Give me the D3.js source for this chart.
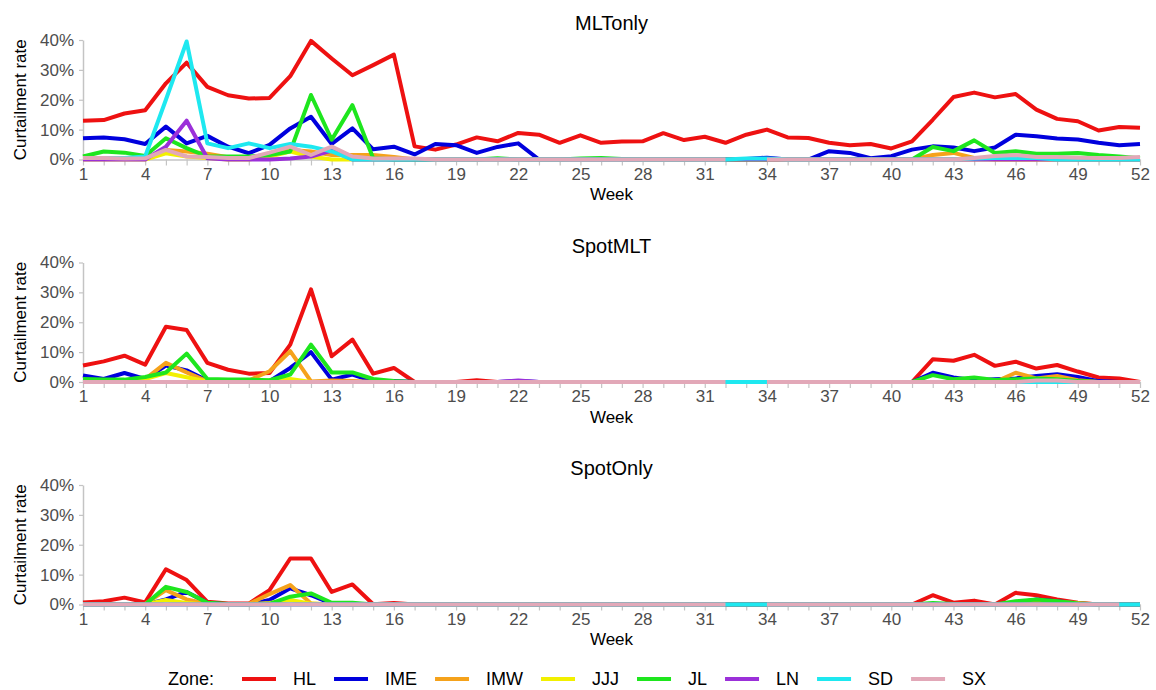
<!DOCTYPE html>
<html>
<head>
<meta charset="utf-8">
<script src="https://cdn.jsdelivr.net/npm/d3@7"></script>
<style>
  body { margin: 0; background: #fff; }
  svg { font-family: "Liberation Sans", Arial, Helvetica, sans-serif; }
</style>
</head>
<body>
<div id="chart"></div>
<script>
// Zones, colours and tick labels
const zones = ["HL", "IME", "IMW", "JJJ", "JL", "LN", "SD", "SX"];
const zoneColors = ["#ee1111", "#0000dd", "#f5a21b", "#f2f000", "#1ee61e", "#9b30d9", "#1ee8f0", "#e2a8b8"];
const weeks = d3.range(1, 53);
const weekTicks = [1, 4, 7, 10, 13, 16, 19, 22, 25, 28, 31, 34, 37, 40, 43, 46, 49, 52];
const rateTicks = [0, 10, 20, 30, 40];
const panelTitles = ["MLTonly", "SpotMLT", "SpotOnly"];

// MLTonly (curtailment rate, %)
const mlt_HL = [13.0, 13.2, 15.4, 16.5, 25.5, 32.4, 24.3, 21.5, 20.4, 20.6, 27.9, 39.7, 33.8,
  28.2, 31.6, 35.1, 4.4, 3.3, 5.0, 7.4, 6.1, 8.9, 8.3, 5.6, 8.1, 5.6,
  6.0, 6.1, 8.8, 6.5, 7.6, 5.6, 8.3, 10.0, 7.4, 7.2, 5.6, 4.8, 5.2,
  3.7, 6.1, 13.3, 20.9, 22.4, 20.8, 21.9, 16.7, 13.6, 12.8, 9.7, 10.9, 10.6];
const mlt_IME = [7.1, 7.4, 6.8, 5.2, 11.0, 5.4, 7.9, 4.3, 2.1, 4.9, 10.4, 14.3, 5.2,
  10.4, 3.4, 4.3, 1.7, 5.2, 4.8, 2.2, 4.2, 5.4, 0, 0, 0, 0,
  0, 0, 0, 0, 0, 0, 0.2, 0.6, 0, 0, 2.8, 2.2, 0.4,
  1.1, 3.3, 4.4, 4.0, 2.8, 4.0, 8.3, 7.8, 7.0, 6.7, 5.6, 4.8, 5.2];
const mlt_IMW = [0.3, 0.3, 0.3, 0.3, 3.2, 2.7, 1.9, 0.8, 0.5, 1.5, 3.2, 2.7, 1.5,
  1.5, 1.5, 0.8, 0, 0, 0, 0, 0, 0, 0, 0, 0, 0,
  0, 0, 0, 0, 0, 0, 0, 0, 0, 0, 0, 0, 0,
  0, 0, 1.5, 2.2, 0.5, 0, 0, 0, 0, 0, 0, 0, 0];
const mlt_JJJ = [0, 0, 0, 0, 2.1, 1.0, 0.5, 0, 0, 1.0, 2.7, 1.0, 0,
  0, 0, 0, 0, 0, 0, 0, 0, 0, 0, 0, 0, 0,
  0, 0, 0, 0, 0, 0, 0, 0, 0, 0, 0, 0, 0,
  0, 0, 0, 0, 0, 0, 0, 0, 0, 0, 0, 0, 0];
const mlt_JL = [1.0, 2.7, 2.3, 1.2, 7.1, 3.8, 1.0, 1.0, 1.0, 1.5, 2.7, 21.6, 6.6,
  18.2, 0.4, 0, 0, 0, 0, 0, 0.4, 0, 0, 0, 0.3, 0.5,
  0.2, 0, 0, 0, 0, 0, 0, 0, 0, 0, 0, 0, 0,
  0, 0, 4.2, 2.8, 6.4, 2.2, 2.8, 1.9, 1.9, 2.2, 1.5, 1.0, 0.4];
const mlt_LN = [0, 0, 0, 0, 4.3, 13.0, 0.4, 0, 0, 0, 0.3, 1.0, 3.0,
  0, 0, 0, 0, 0, 0, 0, 0, 0, 0, 0, 0, 0,
  0, 0, 0, 0, 0, 0, 0, 0, 0, 0, 0, 0, 0,
  0, 0, 0, 0, 0, 0, 0, 0, 0, 0, 0, 0, 0];
const mlt_SD = [0.5, 0.5, 0.5, 1.0, 20.0, 39.5, 5.4, 3.8, 5.4, 3.8, 5.2, 4.3, 2.7,
  0, 0, 0, 0, 0, 0, 0, 0, 0, 0, 0, 0, 0,
  0, 0, 0, 0, 0, 0, 0.3, 0.3, 0, 0, 0, 0, 0,
  0, 0, 0, 0, 0.3, 0.5, 0.5, 0.5, 0, 0, 0, 0, 0];
const mlt_SX = [0.5, 0.5, 0.3, 0.4, 3.2, 1.0, 0.8, 0.5, 0.5, 2.3, 4.3, 1.5, 4.3,
  1.0, 0.3, 0.3, 0.3, 0, 0, 0, 0, 0, 0, 0, 0, 0,
  0, 0, 0, 0, 0, 0, null, 0, 0, 0, 0, 0, 0,
  0, 0, 0, 0, 0.5, 1.2, 1.5, 0.8, 0.8, 0.6, 0.5, 0.5, 0.8];

// SpotMLT
const smlt_HL = [5.5, 6.9, 8.8, 5.8, 18.5, 17.4, 6.4, 4.1, 2.8, 3.0, 12.5, 31.0, 8.6,
  14.2, 2.8, 4.7, 0, 0, 0, 0.6, 0, 0, 0, 0, 0, 0,
  0, 0, 0, 0, 0, 0, 0, 0, 0, 0, 0, 0, 0,
  0, 0, 7.6, 7.1, 9.1, 5.4, 6.8, 4.5, 5.7, 3.5, 1.5, 1.2, 0];
const smlt_IME = [2.2, 1.0, 3.0, 1.0, 5.5, 3.9, 0.5, 0.3, 0.3, 0.3, 4.7, 10.0, 0.8,
  2.5, 0.2, 0.3, 0, 0, 0, 0, 0, 0.3, 0, 0, 0, 0,
  0, 0, 0, 0, 0, 0, 0, 0, 0, 0, 0, 0, 0,
  0, 0, 3.1, 1.5, 0.6, 0.9, 1.2, 2.0, 2.6, 1.7, 0.3, 0, 0];
const smlt_IMW = [0, 0, 0, 1.0, 6.4, 3.2, 0.2, 0, 0.5, 3.6, 10.3, 0.2, 0.5,
  0.3, 0, 0, 0, 0, 0, 0, 0, 0, 0, 0, 0, 0,
  0, 0, 0, 0, 0, 0, 0, 0, 0, 0, 0, 0, 0,
  0, 0, 0, 0, 0, 0, 3.1, 1.2, 2.0, 0.6, 0, 0, 0];
const smlt_JJJ = [0, 0, 0, 1.0, 3.0, 1.6, 0.2, 0, 0, 0.5, 1.0, 0, 0,
  0, 0, 0, 0, 0, 0, 0, 0, 0, 0, 0, 0, 0,
  0, 0, 0, 0, 0, 0, 0, 0, 0, 0, 0, 0, 0,
  0, 0, 0, 0, 0, 0, 0, 1.0, 1.0, 0, 0, 0, 0];
const smlt_JL = [1.0, 0.8, 0.8, 1.7, 3.2, 9.5, 1.0, 0.8, 0.8, 0.6, 2.5, 12.5, 3.2,
  3.2, 1.0, 0.3, 0, 0, 0, 0, 0, 0, 0, 0, 0, 0,
  0, 0, 0, 0, 0, 0, 0, 0, 0, 0, 0, 0, 0,
  0, 0, 2.3, 0.9, 1.5, 0.7, 0.9, 1.2, 0.9, 0.3, 0, 0, 0];
const smlt_LN = [0, 0, 0, 0, 0, 0, 0, 0, 0, 0, 0, 0, 0,
  0, 0, 0, 0, 0, 0, 0, 0, 0.5, 0, 0, 0, 0,
  0, 0, 0, 0, 0, 0, 0, 0, 0, 0, 0, 0, 0,
  0, 0, 0, 0, 0, 0, 0, 0, 0, 0, 0, 0, 0];
const smlt_SD = [0, 0, 0, 0, 0, 0, 0, 0, 0, 0, 0, 0, 0,
  0, 0, 0, 0, 0, 0, 0, 0, 0, 0, 0, 0, 0,
  0, 0, 0, 0, 0, 0, 0, 0, 0, 0, 0, 0, 0,
  0, 0, 0, 0, 0, 0, 0, 0, 0, 0, 0, 0, 0];
const smlt_SX = [0, 0, 0, 0, 0, 0, 0, 0, 0, 0, 0, 0, 0,
  0, 0, 0, 0, 0, 0, 0, 0, 0, 0, 0, 0, 0,
  0, 0, 0, 0, 0, 0, null, 0, 0, 0, 0, 0, 0,
  0, 0, 0, 0, 0, 0, 0, 0.5, 0.5, 0, 0, 0, 0];

// SpotOnly
const so_HL = [0.7, 1.1, 2.3, 0.7, 11.8, 8.2, 0.9, 0.3, 0.3, 4.8, 15.4, 15.4, 4.2,
  6.7, 0.1, 0.5, 0, 0, 0, 0, 0, 0, 0, 0, 0, 0,
  0, 0, 0, 0, 0, 0, 0, 0, 0, 0, 0, 0, 0,
  0, 0, 3.1, 0.6, 1.3, 0, 3.9, 3.1, 1.7, 0.6, 0, 0, 0];
const so_IME = [0, 0, 0, 0, 1.7, 4.2, 0.6, 0, 0, 1.5, 5.4, 3.1, 0.3,
  0, 0, 0, 0, 0, 0, 0, 0, 0, 0, 0, 0, 0,
  0, 0, 0, 0, 0, 0, 0, 0, 0, 0, 0, 0, 0,
  0, 0, 0, 0, 0, 0, 0.5, 1.7, 1.1, 0.3, 0, 0, 0];
const so_IMW = [0, 0, 0, 0.2, 4.8, 1.7, 0.3, 0, 0.2, 3.5, 6.5, 0.3, 0,
  0, 0, 0, 0, 0, 0, 0, 0, 0, 0, 0, 0, 0,
  0, 0, 0, 0, 0, 0, 0, 0, 0, 0, 0, 0, 0,
  0, 0, 0, 0, 0, 0, 0, 1.1, 0.9, 0.5, 0, 0, 0];
const so_JJJ = [0, 0, 0, 0, 1.5, 0.5, 0, 0, 0, 0.5, 1.5, 0.3, 0,
  0, 0, 0, 0, 0, 0, 0, 0, 0, 0, 0, 0, 0,
  0, 0, 0, 0, 0, 0, 0, 0, 0, 0, 0, 0, 0,
  0, 0, 0, 0, 0, 0, 0, 0, 0, 0, 0, 0, 0];
const so_JL = [0, 0, 0, 0, 5.9, 4.2, 0.6, 0.2, 0, 0.2, 2.6, 3.7, 0.6,
  0.6, 0, 0, 0, 0, 0, 0, 0, 0, 0, 0, 0, 0,
  0, 0, 0, 0, 0, 0, 0, 0, 0, 0, 0, 0, 0,
  0, 0, 0.5, 0.2, 0, 0, 1.1, 1.7, 1.1, 0.3, 0, 0, 0];
const so_LN = [0, 0, 0, 0, 0, 0, 0, 0, 0, 0, 0, 0, 0,
  0, 0, 0, 0, 0, 0, 0, 0, 0, 0, 0, 0, 0,
  0, 0, 0, 0, 0, 0, 0, 0, 0, 0, 0, 0, 0,
  0, 0, 0, 0, 0, 0, 0, 0, 0, 0, 0, 0, 0];
const so_SD = [0, 0, 0, 0, 0, 0, 0, 0, 0, 0, 0, 0, 0,
  0, 0, 0, 0, 0, 0, 0, 0, 0, 0, 0, 0, 0,
  0, 0, 0, 0, 0, 0, 0, 0, 0, 0, 0, 0, 0,
  0, 0, 0, 0, 0, 0, 0, 0, 0, 0, 0, 0, 0];
const so_SX = [0, 0, 0, 0, 0, 0, 0, 0, 0, 0, 0, 0, 0,
  0, 0, 0, 0, 0, 0, 0, 0, 0, 0, 0, 0, 0,
  0, 0, 0, 0, 0, 0, null, 0, 0, 0, 0, 0, 0,
  0, 0, 0, 0, 0, 0, 0, 0, 0, 0, 0, 0, null];

const panelSeries = [
  [mlt_HL, mlt_IME, mlt_IMW, mlt_JJJ, mlt_JL, mlt_LN, mlt_SD, mlt_SX],
  [smlt_HL, smlt_IME, smlt_IMW, smlt_JJJ, smlt_JL, smlt_LN, smlt_SD, smlt_SX],
  [so_HL, so_IME, so_IMW, so_JJJ, so_JL, so_LN, so_SD, so_SX]
];

// Chart dimensions
const width = 1156;
const height = 690;
const marginLeft = 83;
const marginRight = 16;
const panelTops = [40, 262.5, 485];
const panelHeight = 119.5;

const svg = d3.create("svg")
  .attr("width", width)
  .attr("height", height);
document.getElementById("chart").append(svg.node());

const x = d3.scaleLinear()
  .domain([1, 52])
  .range([marginLeft, width - marginRight]);

const line = d3.line()
  .defined(d => d.v != null)
  .x(d => x(d.w))
  .y(d => d.yScale(d.v));

panelTitles.forEach((title, p) => {
  const top = panelTops[p];
  const bottom = top + panelHeight;

  const y = d3.scaleLinear()
    .domain([0, 40])
    .range([bottom, top]);

  // Title
  svg.append("text")
    .attr("x", (x(1) + x(52)) / 2)
    .attr("y", top - 17)
    .attr("dy", "0.35em")
    .attr("text-anchor", "middle")
    .style("font-size", "20px")
    .attr("fill", "#000")
    .text(title);

  // Y axis
  const gy = svg.append("g")
    .attr("transform", `translate(${marginLeft},0)`)
    .call(d3.axisLeft(y).tickValues(rateTicks).tickFormat(d => d + "%")
      .tickSize(4).tickPadding(5).tickSizeOuter(0));

  // X axis
  const gx = svg.append("g")
    .attr("transform", `translate(0,${bottom})`)
    .call(d3.axisBottom(x).tickValues(weeks)
      .tickFormat(d => weekTicks.includes(d) ? d : "")
      .tickSize(6).tickPadding(2).tickSizeOuter(0));

  [gx, gy].forEach(g => {
    g.select(".domain").attr("stroke", "#c4c4c4").attr("stroke-width", 1.5);
    g.selectAll(".tick line").attr("stroke", "#c4c4c4").attr("stroke-width", 1.2);
    g.selectAll(".tick text")
      .attr("fill", "#4d4d4d")
      .style("font-size", "17px")
      .style("font-family", "'Liberation Sans', Arial, Helvetica, sans-serif");
  });

  // Axis titles
  svg.append("text")
    .attr("x", (x(1) + x(52)) / 2)
    .attr("y", bottom + 35)
    .attr("dy", "0.35em")
    .attr("text-anchor", "middle")
    .style("font-size", "17px")
    .text("Week");

  svg.append("text")
    .attr("transform", `translate(20,${(top + bottom) / 2}) rotate(-90)`)
    .attr("dy", "0.35em")
    .attr("text-anchor", "middle")
    .style("font-size", "17px")
    .text("Curtailment rate");

  // Lines, one per zone
  panelSeries[p].forEach((vals, i) => {
    const pts = vals.map((v, k) => ({ w: weeks[k], v: v, yScale: y }));
    svg.append("path")
      .attr("d", line(pts))
      .attr("fill", "none")
      .attr("stroke", zoneColors[i])
      .attr("stroke-width", 4)
      .attr("stroke-linejoin", "round");
  });
});

// Legend
const legendY = 679;
const legend = svg.append("g").attr("transform", `translate(0,${legendY})`);
legend.append("text")
  .attr("x", 168)
  .attr("dy", "0.35em")
  .style("font-size", "18px")
  .text("Zone:");

let lx = 242;
zones.forEach((z, i) => {
  legend.append("line")
    .attr("x1", lx).attr("x2", lx + 34)
    .attr("stroke", zoneColors[i])
    .attr("stroke-width", 4);
  const t = legend.append("text")
    .attr("x", lx + 51)
    .attr("dy", "0.35em")
    .style("font-size", "18px")
    .text(z);
  lx = lx + 51 + t.node().getComputedTextLength() + 18;
});
</script>
</body>
</html>
